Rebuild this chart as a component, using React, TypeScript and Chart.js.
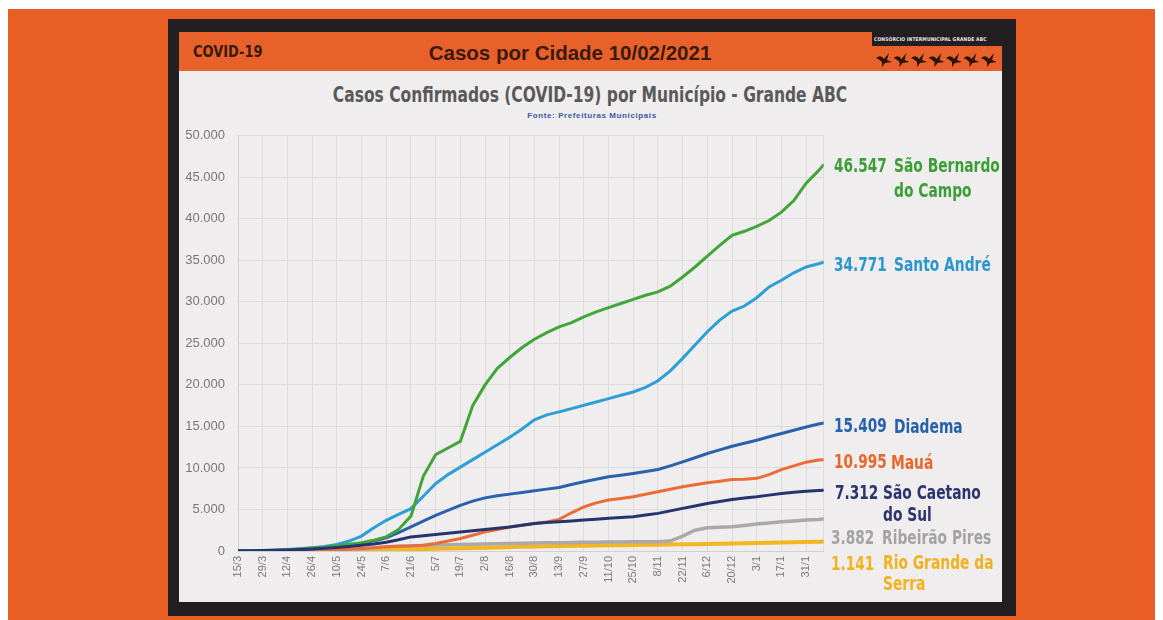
import React, { useEffect, useRef } from "react";
import { Chart, registerables } from "chart.js";

Chart.register(...registerables);

// ---------- DATA ----------
const tickLabels = ["15/3", "29/3", "12/4", "26/4", "10/5", "24/5", "7/6", "21/6", "5/7", "19/7", "2/8", "16/8", "30/8", "13/9", "27/9", "11/10", "25/10", "8/11", "22/11", "6/12", "20/12", "3/1", "17/1", "31/1"];
const tickDays = [0, 14, 28, 42, 56, 70, 84, 98, 112, 126, 140, 154, 168, 182, 196, 210, 224, 238, 252, 266, 280, 294, 308, 322];
const lastDay = 332; // 10/02/2021

// days since 15/3/2020
const days = [0, 7, 14, 21, 28, 35, 42, 49, 56, 63, 70, 77, 84, 91, 98, 105, 112, 119, 126, 133, 140, 147, 154, 161, 168, 175, 182, 189, 196, 203, 210, 217, 224, 231, 238, 245, 252, 259, 266, 273, 280, 287, 294, 301, 308, 315, 322, 329, 332];

const saoBernardo = [0, 30, 60, 100, 150, 250, 350, 450, 600, 800, 1000, 1300, 1700, 2600, 4200, 9000, 11600, 12400, 13200, 17500, 20000, 22000, 23300, 24500, 25500, 26300, 27000, 27500, 28200, 28800, 29300, 29800, 30300, 30800, 31200, 31900, 33000, 34200, 35500, 36800, 38000, 38500, 39100, 39800, 40800, 42200, 44300, 45800, 46547];
const santoAndre = [0, 20, 50, 100, 180, 280, 400, 550, 800, 1200, 1800, 2800, 3700, 4400, 5100, 6600, 8100, 9200, 10100, 11000, 11900, 12800, 13700, 14700, 15800, 16400, 16750, 17150, 17550, 17950, 18350, 18750, 19150, 19700, 20500, 21700, 23200, 24800, 26400, 27800, 28900, 29500, 30500, 31800, 32600, 33500, 34200, 34600, 34771];
const diadema = [0, 10, 30, 60, 100, 170, 250, 350, 500, 700, 950, 1200, 1600, 2200, 2900, 3600, 4300, 4900, 5500, 6000, 6400, 6650, 6850, 7050, 7250, 7450, 7650, 8000, 8330, 8630, 8930, 9130, 9340, 9580, 9820, 10250, 10730, 11230, 11740, 12180, 12620, 12980, 13340, 13750, 14150, 14550, 14940, 15300, 15409];
const maua = [0, 0, 10, 20, 40, 60, 90, 120, 160, 220, 300, 400, 500, 560, 600, 700, 900, 1200, 1500, 1900, 2300, 2600, 2900, 3100, 3300, 3500, 3800, 4600, 5300, 5800, 6130, 6330, 6530, 6830, 7130, 7430, 7730, 7970, 8210, 8400, 8600, 8650, 8750, 9200, 9800, 10250, 10700, 10950, 10995];
const saoCaetano = [20, 40, 60, 90, 130, 180, 250, 330, 430, 550, 700, 850, 1050, 1350, 1700, 1850, 2000, 2150, 2300, 2450, 2600, 2750, 2900, 3100, 3300, 3420, 3520, 3620, 3730, 3830, 3930, 4030, 4130, 4330, 4530, 4830, 5130, 5430, 5730, 5970, 6210, 6370, 6530, 6730, 6930, 7080, 7200, 7290, 7312];
const ribeiraoPires = [0, 0, 5, 10, 20, 40, 60, 90, 130, 180, 250, 350, 500, 560, 620, 670, 710, 750, 780, 810, 840, 870, 900, 930, 960, 980, 1000, 1020, 1040, 1060, 1080, 1090, 1100, 1110, 1120, 1200, 1800, 2500, 2800, 2870, 2920, 3080, 3240, 3380, 3520, 3620, 3730, 3800, 3882];
const rioGrande = [0, 0, 0, 5, 10, 15, 25, 35, 50, 70, 90, 120, 150, 180, 210, 240, 270, 300, 330, 360, 390, 430, 470, 520, 550, 575, 600, 620, 640, 660, 680, 700, 720, 740, 760, 780, 800, 820, 845, 870, 895, 920, 950, 980, 1010, 1045, 1080, 1120, 1141];

const seriesNames = ["São Caetano do Sul", "São Bernardo do Campo", "Santo André", "Diadema", "Mauá", "Ribeirão Pires", "Rio Grande da Serra"];
const seriesValues = [saoCaetano, saoBernardo, santoAndre, diadema, maua, ribeiraoPires, rioGrande];
const seriesColors = ["#25336f", "#41a53a", "#2e9fd4", "#2a61ab", "#eb6c35", "#a9a9a9", "#f3b520"];
const seriesWidths = [3, 3, 3, 3, 3, 3.5, 4];

const fmt = (v: number) => String(v).replace(/\B(?=(\d{3})+(?!\d))/g, ".");

const NARROW = '"Liberation Sans Narrow", "DejaVu Sans Condensed", "Roboto", sans-serif';
const SANS = '"Liberation Sans", Arial, "DejaVu Sans", sans-serif';

function LineChart() {
  const ref = useRef<HTMLCanvasElement | null>(null);
  useEffect(() => {
    if (!ref.current) return;
    const chart = new Chart(ref.current, {
      type: "line",
      data: {
        datasets: seriesValues.map((vals, i) => ({
          label: seriesNames[i],
          data: days.map((d, j) => ({ x: d, y: vals[j] })),
          borderColor: seriesColors[i],
          backgroundColor: seriesColors[i],
          borderWidth: seriesWidths[i],
          pointRadius: 0,
          tension: 0,
          fill: false,
          order: i,
        })),
      },
      options: {
        animation: false,
        responsive: false,
        layout: { padding: { top: 8, right: 0, bottom: 0, left: 0 } },
        plugins: { legend: { display: false }, tooltip: { enabled: false }, title: { display: false } },
        scales: {
          x: {
            type: "linear",
            min: 0,
            max: lastDay,
            afterBuildTicks: (scale: any) => {
              scale.ticks = [...tickDays, lastDay].map((v) => ({ value: v }));
            },
            afterFit: (scale: any) => {
              scale.height = 51;
            },
            ticks: {
              autoSkip: false,
              minRotation: 90,
              maxRotation: 90,
              padding: 5,
              color: "#7a7a7a",
              font: { family: SANS, size: 11 },
              callback: (value: any) => {
                const i = tickDays.indexOf(Number(value));
                return i >= 0 ? tickLabels[i] : "";
              },
            },
            grid: { color: "#dcdcdc", lineWidth: 1, drawTicks: false },
            border: { display: true, color: "#d0d0d0" },
          },
          y: {
            min: 0,
            max: 50000,
            afterFit: (scale: any) => {
              scale.width = 59;
            },
            ticks: {
              stepSize: 5000,
              padding: 13,
              color: "#777777",
              font: { family: SANS, size: 13 },
              callback: (value: any) => fmt(Number(value)),
            },
            grid: { color: "#dcdcdc", lineWidth: 1, drawTicks: false },
            border: { display: true, color: "#d0d0d0" },
          },
        },
      },
    });
    return () => chart.destroy();
  }, []);
  return <canvas ref={ref} width={663} height={487} style={{ position: "absolute", left: 179, top: 115 }} />;
}

type Lab = { text: string; x: number; y: number; color: string; sx: number };
const labelColors = {
  sbc: "#3b9e36",
  sa: "#2b97cc",
  dia: "#2761aa",
  mau: "#e8672f",
  scs: "#2a3570",
  rp: "#a3a3a3",
  rgs: "#f2b21e",
};
const NUM_SX = 0.8;
const NAME_SX = 0.81;
const rightLabels: Lab[] = [
  { text: fmt(46547), x: 834, y: 165, color: labelColors.sbc, sx: NUM_SX },
  { text: "São Bernardo", x: 894, y: 165, color: labelColors.sbc, sx: NAME_SX },
  { text: "do Campo", x: 894, y: 190, color: labelColors.sbc, sx: NAME_SX },
  { text: fmt(34771), x: 834, y: 264, color: labelColors.sa, sx: NUM_SX },
  { text: "Santo André", x: 894, y: 264, color: labelColors.sa, sx: NAME_SX },
  { text: fmt(15409), x: 834, y: 425, color: labelColors.dia, sx: NUM_SX },
  { text: "Diadema", x: 894, y: 426, color: labelColors.dia, sx: NAME_SX },
  { text: fmt(10995), x: 834, y: 461, color: labelColors.mau, sx: NUM_SX },
  { text: "Mauá", x: 891, y: 462, color: labelColors.mau, sx: NAME_SX },
  { text: fmt(7312), x: 835, y: 492, color: labelColors.scs, sx: NUM_SX },
  { text: "São Caetano", x: 883, y: 492, color: labelColors.scs, sx: NAME_SX },
  { text: "do Sul", x: 883, y: 514, color: labelColors.scs, sx: NAME_SX },
  { text: fmt(3882), x: 831, y: 537, color: labelColors.rp, sx: NUM_SX },
  { text: "Ribeirão Pires", x: 882, y: 537, color: labelColors.rp, sx: NAME_SX },
  { text: fmt(1141), x: 831, y: 563, color: labelColors.rgs, sx: NUM_SX },
  { text: "Rio Grande da", x: 883, y: 562, color: labelColors.rgs, sx: NAME_SX },
  { text: "Serra", x: 883, y: 583, color: labelColors.rgs, sx: NAME_SX },
];

function Birds() {
  const items = [0, 1, 2, 3, 4, 5, 6];
  return (
    <svg width={126} height={16} style={{ position: "absolute", left: 876, top: 52 }}>
      {items.map((i) => (
        <path
          key={i}
          transform={`translate(${i * 17.5},1)`}
          d="M0 5 Q5 1 8 6 L13 0 L11 7 L16 9 L9 10 L6 14 L6 9 Q3 6 0 5 Z"
          fill="#2b1409"
        />
      ))}
    </svg>
  );
}

export default function App() {
  const abs = (o: React.CSSProperties): React.CSSProperties => ({ position: "absolute", ...o });
  return (
    <div style={abs({ left: 0, top: 0, width: 1163, height: 620, background: "#ffffff", overflow: "hidden" })}>
      <div style={abs({ left: 8, top: 9, width: 1147, height: 611, background: "#e95e24" })} />
      <div style={abs({ left: 168, top: 19, width: 848, height: 597, background: "#231f20" })} />
      <div style={abs({ left: 179, top: 32, width: 823, height: 39, background: "#e8612a" })} />
      <div style={abs({ left: 872, top: 32, width: 130, height: 14, background: "#231f20" })} />
      <div
        style={abs({
          left: 874,
          top: 36,
          width: 126,
          fontFamily: NARROW,
          fontWeight: 700,
          fontSize: 5,
          color: "#e8e8e8",
          whiteSpace: "nowrap",
          letterSpacing: 0.1,
        })}
      >
        CONSÓRCIO INTERMUNICIPAL GRANDE ABC
      </div>
      <Birds />
      <div
        style={abs({
          left: 193,
          top: 43,
          fontFamily: NARROW,
          fontWeight: 700,
          fontSize: 16,
          lineHeight: "18px",
          color: "#3a1a0e",
          whiteSpace: "nowrap",
          transform: "scaleX(0.9)",
          transformOrigin: "left center",
        })}
      >
        COVID-19
      </div>
      <div
        style={abs({
          left: 400,
          width: 340,
          top: 41,
          textAlign: "center",
          fontFamily: SANS,
          fontWeight: 700,
          fontSize: 20.5,
          lineHeight: "24px",
          color: "#3a1a0e",
          whiteSpace: "nowrap",
        })}
      >
        Casos por Cidade 10/02/2021
      </div>
      <div style={abs({ left: 179, top: 71, width: 823, height: 531, background: "#efeded" })} />
      <div
        style={abs({
          left: 190,
          width: 800,
          top: 83,
          textAlign: "center",
          fontFamily: NARROW,
          fontWeight: 700,
          fontSize: 21,
          lineHeight: "24px",
          color: "#595959",
          whiteSpace: "nowrap",
          transform: "scaleX(0.82)",
          transformOrigin: "center center",
        })}
      >
        Casos Confirmados (COVID-19) por Município - Grande ABC
      </div>
      <div
        style={abs({
          left: 442,
          width: 300,
          top: 111,
          textAlign: "center",
          fontFamily: SANS,
          fontWeight: 700,
          fontSize: 8,
          lineHeight: "10px",
          letterSpacing: 0.6,
          color: "#3b5aa6",
          whiteSpace: "nowrap",
        })}
      >
        Fonte: Prefeituras Municipais
      </div>
      <LineChart />
      {rightLabels.map((l, i) => (
        <div
          key={i}
          style={abs({
            left: l.x,
            top: l.y - 11,
            fontFamily: NARROW,
            fontWeight: 700,
            fontSize: 19,
            lineHeight: "22px",
            color: l.color,
            whiteSpace: "nowrap",
            transform: `scaleX(${l.sx})`,
            transformOrigin: "left center",
          })}
        >
          {l.text}
        </div>
      ))}
    </div>
  );
}
